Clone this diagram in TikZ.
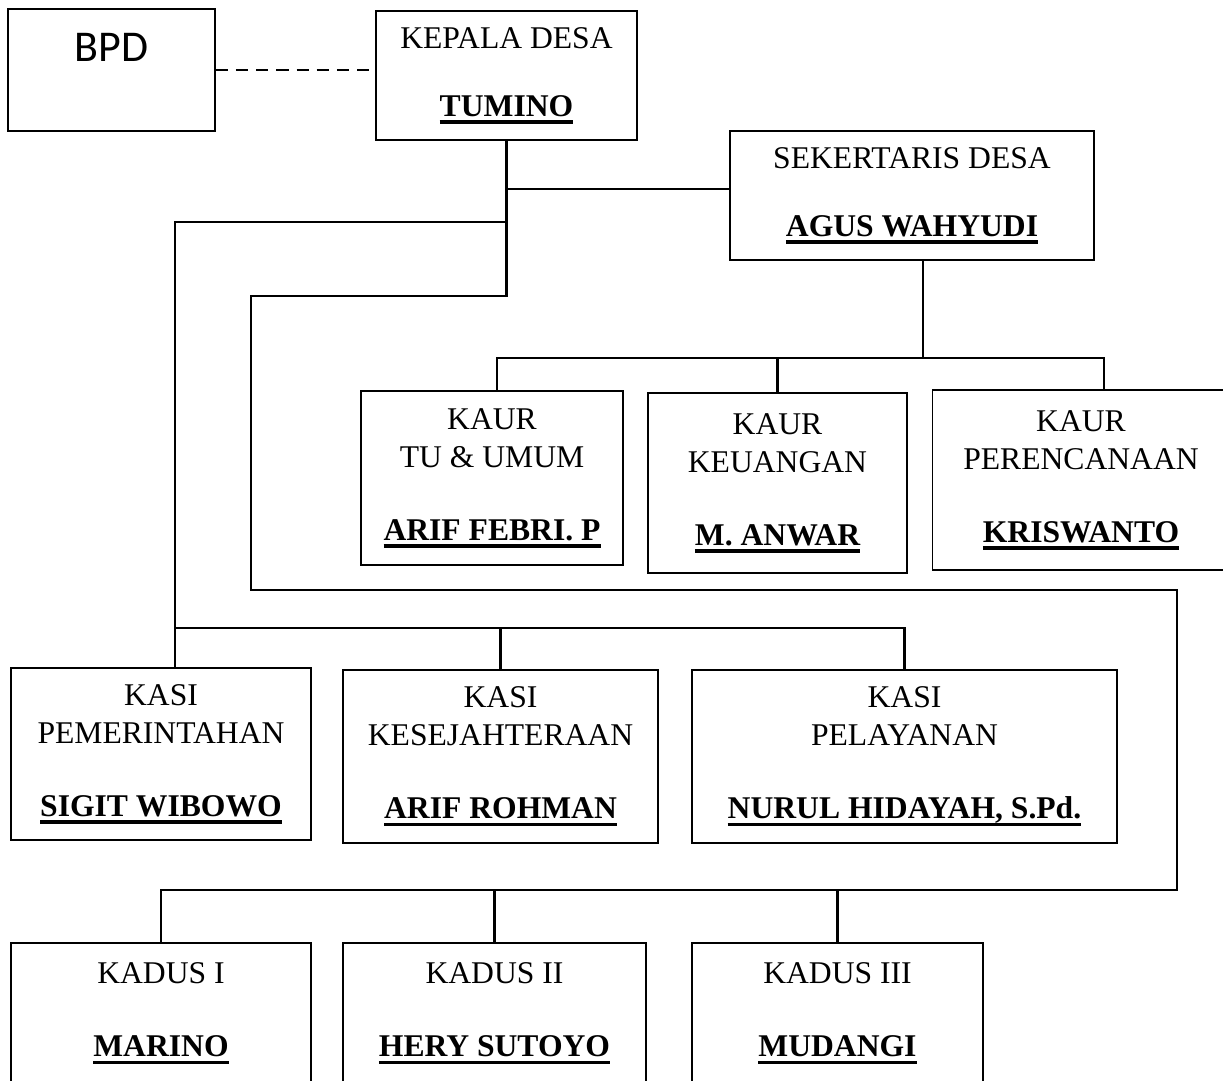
\documentclass[tikz,border=0pt]{standalone}
\usepackage{fontspec}
\setmainfont{Liberation Serif}
\newfontfamily\bpdfont{Carlito}
\usepackage{tikz}
\usetikzlibrary{positioning}

\newcommand{\nama}[1]{\textbf{\setbox0\hbox{#1}\rlap{\rule[-4.3pt]{\wd0}{2pt}}\box0}}

\begin{document}
\begin{tikzpicture}[x=0.02cm, y=-0.02cm,
    jabatan/.style={draw, line width=0.8pt, align=center, inner sep=0pt, font=\fontsize{18}{21.6}\selectfont},
    link/.style={line width=1.6pt},
    putus/.style={line width=1.6pt, dash pattern=on 7pt off 4.5pt}
  ]
    \useasboundingbox (0,0) rectangle (1223,1080);
    \clip (0,0) rectangle (1223,1080);

    \node[jabatan, minimum width=4.14cm, minimum height=2.44cm, font=\bpdfont\fontsize{25}{30}\selectfont, text height=16pt, text depth=26pt] (bpd) at (111.5,70) {BPD};
    \node[jabatan, minimum width=5.22cm, minimum height=2.58cm] (kades) at (506.5,75.5) {KEPALA DESA\\[17pt]\nama{TUMINO}};
    \node[jabatan, minimum width=7.28cm, minimum height=2.58cm] (sekdes) at (912,195.5) {SEKERTARIS DESA\\[17pt]\nama{AGUS WAHYUDI}};

    \node[jabatan, minimum width=5.24cm, minimum height=3.48cm] (kaur1) at (492,478) {KAUR\\TU \& UMUM\\[20pt]\nama{ARIF FEBRI. P}};
    \node[jabatan, minimum width=5.18cm, minimum height=3.6cm] (kaur2) at (777.5,483) {KAUR\\KEUANGAN\\[20pt]\nama{M. ANWAR}};
    \node[jabatan, minimum width=5.94cm, minimum height=3.6cm] (kaur3) at (1081,480) {KAUR\\PERENCANAAN\\[20pt]\nama{KRISWANTO}};

    \node[jabatan, minimum width=6cm, minimum height=3.44cm] (kasi1) at (161,754) {KASI\\PEMERINTAHAN\\[20pt]\nama{SIGIT WIBOWO}};
    \node[jabatan, minimum width=6.3cm, minimum height=3.46cm] (kasi2) at (500.5,756.5) {KASI\\KESEJAHTERAAN\\[20pt]\nama{ARIF ROHMAN}};
    \node[jabatan, minimum width=8.5cm, minimum height=3.46cm] (kasi3) at (904.5,756.5) {KASI\\PELAYANAN\\[20pt]\nama{NURUL HIDAYAH, S.Pd.}};

    \node[jabatan, minimum width=6cm, minimum height=2.82cm] (kadus1) at (161,1013.5) {KADUS I\\[20pt]\nama{MARINO}};
    \node[jabatan, minimum width=6.06cm, minimum height=2.82cm] (kadus2) at (494.5,1013.5) {KADUS II\\[20pt]\nama{HERY SUTOYO}};
    \node[jabatan, minimum width=5.82cm, minimum height=2.82cm] (kadus3) at (837.5,1013.5) {KADUS III\\[20pt]\nama{MUDANGI}};

    \coordinate (sekbus) at (730,189);
    \coordinate (kasibus) at (175,222);
    \coordinate (kasiline) at (175,628);
    \coordinate (kadusbus) at (251,296);
    \coordinate (kadusturn) at (1177,590);
    \coordinate (kadusline) at (1177,890);
    \coordinate (kaurL) at (497,358);
    \coordinate (kaurM) at (923,358);
    \coordinate (kaurR) at (1104,358);

    \draw[putus] (bpd.east) -- (bpd.east -| kades.west);
    \draw[link] (kades.south |- sekbus) -- (sekbus);
    \draw[link] (kades.south) |- (kadusbus) |- (kadusturn) |- (kadusline) -| (kadus1.north);
    \draw[link] (kadus2.north) -- (kadus2.north |- kadusline);
    \draw[link] (kadus3.north) -- (kadus3.north |- kadusline);
    \draw[link] (kades.south |- kasibus) -- (kasibus) -- (kasibus |- kasi1.north);
    \draw[link] (kasiline) -| (kasi3.north);
    \draw[link] (kasi2.north) -- (kasi2.north |- kasiline);
    \draw[link] (sekdes.south -| kaurM) -- (kaurM);
    \draw[link] (kaurL |- kaur1.north) -- (kaurL) -- (kaurR) -- (kaurR |- kaur3.north);
    \draw[link] (kaur2.north) -- (kaur2.north |- kaurL);
  \end{tikzpicture}
\end{document}
